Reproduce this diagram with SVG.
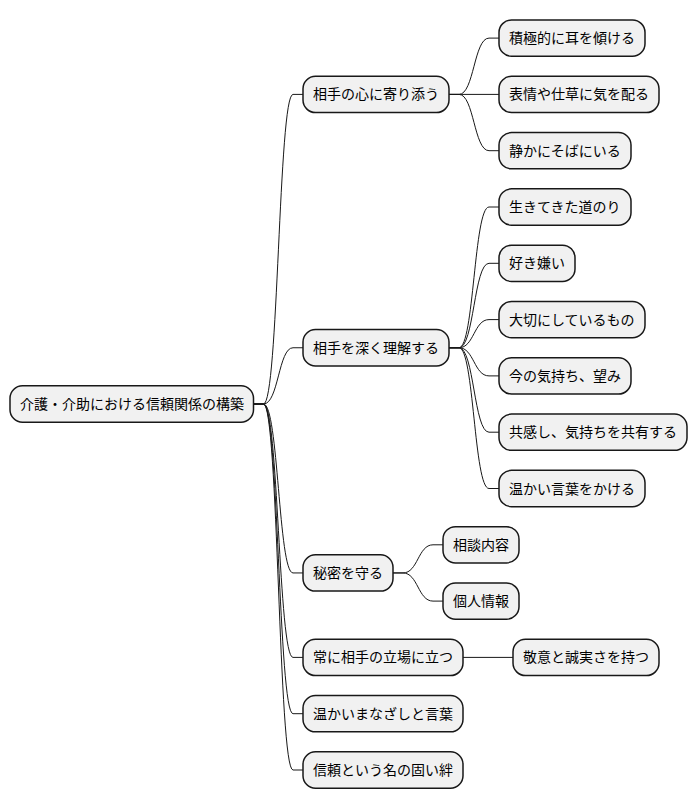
<svg xmlns="http://www.w3.org/2000/svg" width="698" height="809" viewBox="0 0 698 809">
<style>
.n rect{fill:#F1F1F1;stroke:#181818;stroke-width:1.5}
.n text{font-family:"Noto Sans CJK JP","Noto Sans CJK SC",sans-serif;font-size:14px;fill:#000000}
.c path{fill:none;stroke:#181818;stroke-width:1}
</style>
<rect width="698" height="809" fill="#FFFFFF"/>
<g class="c">
<path d="M253.5,404 H263.5 C278.5,404 278.5,94.4 293,94.4 H303"/>
<path d="M253.5,404 H263.5 C278.5,404 278.5,347.75 293,347.75 H303"/>
<path d="M253.5,404 H263.5 C278.5,404 278.5,572.95 293,572.95 H303"/>
<path d="M253.5,404 H263.5 C278.5,404 278.5,657.4 293,657.4 H303"/>
<path d="M253.5,404 H263.5 C278.5,404 278.5,713.7 293,713.7 H303"/>
<path d="M253.5,404 H263.5 C278.5,404 278.5,770 293,770 H303"/>
<path d="M449,94.4 H459 C474,94.4 474,38.1 489,38.1 H499"/>
<path d="M449,94.4 H499"/>
<path d="M449,94.4 H459 C474,94.4 474,150.7 489,150.7 H499"/>
<path d="M449,347.75 H459 C474,347.75 474,207 489,207 H499"/>
<path d="M449,347.75 H459 C474,347.75 474,263.3 489,263.3 H499"/>
<path d="M449,347.75 H459 C474,347.75 474,319.6 489,319.6 H499"/>
<path d="M449,347.75 H459 C474,347.75 474,375.9 489,375.9 H499"/>
<path d="M449,347.75 H459 C474,347.75 474,432.2 489,432.2 H499"/>
<path d="M449,347.75 H459 C474,347.75 474,488.5 489,488.5 H499"/>
<path d="M393,572.95 H403 C418,572.95 418,544.8 433,544.8 H443"/>
<path d="M393,572.95 H403 C418,572.95 418,601.1 433,601.1 H443"/>
<path d="M463,657.4 H513"/>
</g>
<g id="root" class="n"><rect x="10" y="385.85" width="243.5" height="36.3" rx="12.5"/><text x="20" y="409">介護・介助における信頼関係の構築</text></g>
<g id="n1" class="n"><rect x="303" y="76.25" width="146" height="36.3" rx="12.5"/><text x="313" y="99.4">相手の心に寄り添う</text></g>
<g id="n1a" class="n"><rect x="499" y="19.95" width="146" height="36.3" rx="12.5"/><text x="509" y="43.1">積極的に耳を傾ける</text></g>
<g id="n1b" class="n"><rect x="499" y="76.25" width="160" height="36.3" rx="12.5"/><text x="509" y="99.4">表情や仕草に気を配る</text></g>
<g id="n1c" class="n"><rect x="499" y="132.55" width="132" height="36.3" rx="12.5"/><text x="509" y="155.7">静かにそばにいる</text></g>
<g id="n2" class="n"><rect x="303" y="329.6" width="146" height="36.3" rx="12.5"/><text x="313" y="352.75">相手を深く理解する</text></g>
<g id="n2a" class="n"><rect x="499" y="188.85" width="132" height="36.3" rx="12.5"/><text x="509" y="212">生きてきた道のり</text></g>
<g id="n2b" class="n"><rect x="499" y="245.15" width="76" height="36.3" rx="12.5"/><text x="509" y="268.3">好き嫌い</text></g>
<g id="n2c" class="n"><rect x="499" y="301.45" width="146" height="36.3" rx="12.5"/><text x="509" y="324.6">大切にしているもの</text></g>
<g id="n2d" class="n"><rect x="499" y="357.75" width="132" height="36.3" rx="12.5"/><text x="509" y="380.9">今の気持ち、望み</text></g>
<g id="n2e" class="n"><rect x="499" y="414.05" width="188" height="36.3" rx="12.5"/><text x="509" y="437.2">共感し、気持ちを共有する</text></g>
<g id="n2f" class="n"><rect x="499" y="470.35" width="146" height="36.3" rx="12.5"/><text x="509" y="493.5">温かい言葉をかける</text></g>
<g id="n3" class="n"><rect x="303" y="554.8" width="90" height="36.3" rx="12.5"/><text x="313" y="577.95">秘密を守る</text></g>
<g id="n3a" class="n"><rect x="443" y="526.65" width="76" height="36.3" rx="12.5"/><text x="453" y="549.8">相談内容</text></g>
<g id="n3b" class="n"><rect x="443" y="582.95" width="76" height="36.3" rx="12.5"/><text x="453" y="606.1">個人情報</text></g>
<g id="n4" class="n"><rect x="303" y="639.25" width="160" height="36.3" rx="12.5"/><text x="313" y="662.4">常に相手の立場に立つ</text></g>
<g id="n4a" class="n"><rect x="513" y="639.25" width="146" height="36.3" rx="12.5"/><text x="523" y="662.4">敬意と誠実さを持つ</text></g>
<g id="n5" class="n"><rect x="303" y="695.55" width="160" height="36.3" rx="12.5"/><text x="313" y="718.7">温かいまなざしと言葉</text></g>
<g id="n6" class="n"><rect x="303" y="751.85" width="160" height="36.3" rx="12.5"/><text x="313" y="775">信頼という名の固い絆</text></g>
</svg>
